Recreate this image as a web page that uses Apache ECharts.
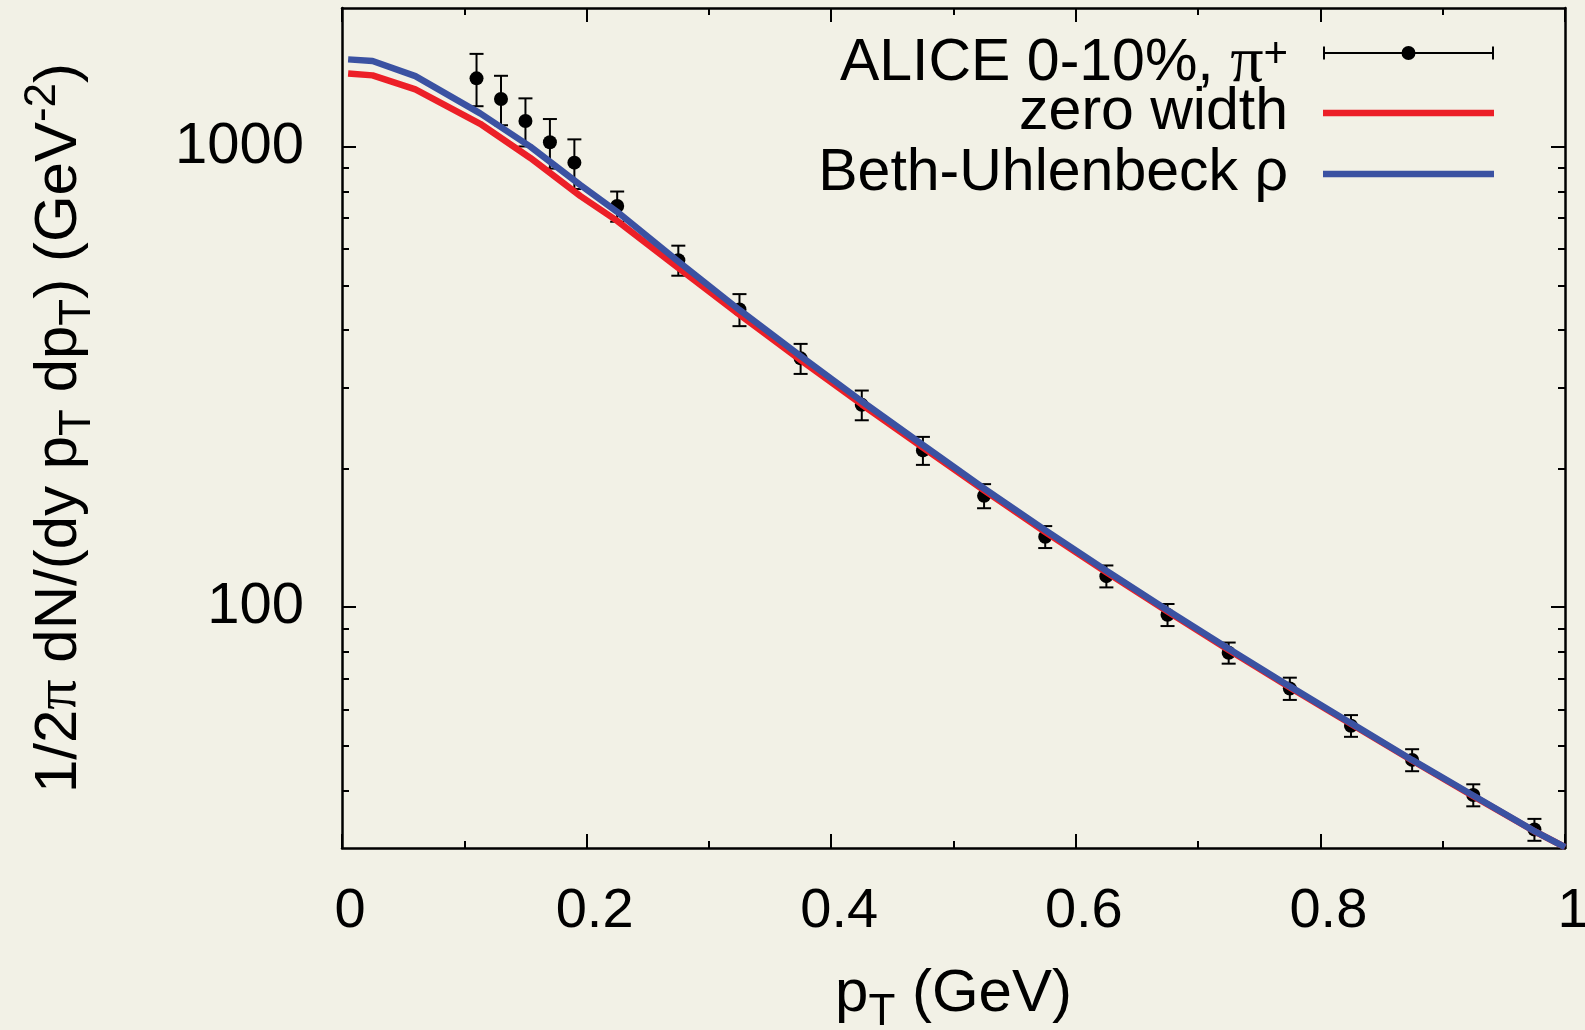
<!DOCTYPE html>
<html>
<head>
<meta charset="utf-8">
<script src="https://cdn.jsdelivr.net/npm/echarts@6/dist/echarts.min.js"></script>
<style>
html,body{margin:0;padding:0;background:#f2f1e6;}
#chart{width:1585px;height:1030px;}
</style>
</head>
<body>
<div id="chart"></div>
<script>
// ALICE 0-10% pi+ data
const pT = [0.11,0.13,0.15,0.17,0.19,0.225,0.275,0.325,0.375,0.425,0.475,0.525,0.575,0.625,0.675,0.725,0.775,0.825,0.875,0.925,0.975];
const yields = [1407,1269,1137,1022,923,743,567,443,347,275,219,174.5,142.2,116.8,96.3,79.6,66.6,55.3,46.6,39.1,32.9];
const yieldErr = [183,156,136,126,114,56,42.5,35.4,26,20.4,15.3,10.5,7.8,6.4,5.3,4.2,3.7,3.0,2.56,2.15,1.8];

// model curves
const curveX = [0.005,0.025,0.06,0.113,0.154,0.195,0.225,0.275,0.325,0.375,0.425,0.475,0.525,0.575,0.625,0.675,0.725,0.775,0.825,0.875,0.925,0.975,1.0];
const zeroWidth = [1442,1428,1331,1121,945,781,690,545,431.5,344,275.5,222,179.4,145.6,119.1,97.9,80.75,66.97,55.78,46.46,38.87,32.62,30.13];
const bethUhlenbeck = [1547,1534,1423,1181,1000,825,722,563,442,351,280,225,181,147,120,98.5,81.2,67.3,56.0,46.6,39.0,32.65,30.13];

// axis ticks
const yMajorTicks = [100, 1000];
const yMinorTicks = [40,50,60,70,80,90,200,300,400,500,600,700,800,900];

const names = ['ALICE 0-10%, π+', 'zero width', 'Beth-Uhlenbeck ρ'];
const FONT = 'Liberation Sans, Arial, Helvetica, sans-serif';
const SERIF = 'Liberation Serif, Times New Roman, serif';
const RED = '#ec1f27';
const BLUE = '#3b52a2';

const chart = echarts.init(document.getElementById('chart'), null, {renderer: 'canvas'});

const dataPts = pT.map((x, i) => [x, yields[i], yieldErr[i]]);
const redPts = curveX.map((x, i) => [x, zeroWidth[i]]);
const bluePts = curveX.map((x, i) => [x, bethUhlenbeck[i]]);

const speck = 'M0,0 h0.01 v0.01 h-0.01 Z M170.99,13.99 h0.01 v0.01 h-0.01 Z ';
const iconAlice = 'path://M0,0.5 h2 v13 h-2 Z M169,0.5 h2 v13 h-2 Z M0,6 h171 v2 h-171 Z M78.5,7 A7,7 0 1,1 92.5,7 A7,7 0 1,1 78.5,7 Z';
const iconLine = 'path://' + speck + 'M0,3.75 h171 v6.5 h-171 Z';

const subStyle = {fontFamily: FONT, fontSize: 44, lineHeight: 20, verticalAlign: 'middle', padding: [37, 0, 0, 0], color: '#000'};
const supStyle = {fontFamily: FONT, fontSize: 44, lineHeight: 20, verticalAlign: 'middle', padding: [0, 0, 33, 0], color: '#000'};

function xAxisDef(pos, withLabels) {
  return {
    type: 'value', position: pos, min: 0, max: 1, interval: 0.2,
    gridIndex: 0,
    axisLine: {show: true, onZero: false, lineStyle: {color: '#000', width: 2.5}},
    axisTick: {show: true, inside: true, length: 14, lineStyle: {color: '#000', width: 2}},
    minorTick: {show: true, splitNumber: 2, length: 7, lineStyle: {color: '#000', width: 2}},
    splitLine: {show: false}, minorSplitLine: {show: false},
    axisLabel: withLabels ? {show: true, color: '#000', fontFamily: FONT, fontSize: 56, margin: 36, padding: [0, 0, 0, 16]} : {show: false},
    name: withLabels ? '{a|p}{s|T}{a| (GeV)}' : '',
    nameLocation: 'middle', nameGap: 116, nameMoveOverlap: false,
    nameTextStyle: {
      color: '#000', fontFamily: FONT, fontSize: 60, lineHeight: 60,
      rich: {
        a: {fontFamily: FONT, fontSize: 60, lineHeight: 60, color: '#000'},
        s: subStyle
      }
    }
  };
}

function yAxisDef(pos, major, withLabels) {
  const ticks = major ? yMajorTicks : yMinorTicks;
  return {
    type: 'log', logBase: 10, position: pos, min: 30, max: 2000, gridIndex: 0,
    axisLine: {show: major, onZero: false, lineStyle: {color: '#000', width: 2.5}},
    axisTick: {show: true, inside: true, length: major ? 14 : 7, customValues: ticks, lineStyle: {color: '#000', width: 2}},
    splitLine: {show: false},
    axisLabel: withLabels ? {show: true, customValues: yMajorTicks, formatter: v => String(v), color: '#000', fontFamily: FONT, fontSize: 58, margin: 38} : {show: false},
    name: withLabels ? '{a|1/2}{g|π}{a| dN/(dy p}{s|T}{a| dp}{s|T}{a|) (GeV}{p|-2}{a|)}' : '',
    nameLocation: 'middle', nameRotate: 90, nameGap: 253, nameMoveOverlap: false,
    nameTextStyle: {
      color: '#000', fontFamily: FONT, fontSize: 60, lineHeight: 60,
      rich: {
        a: {fontFamily: FONT, fontSize: 60, lineHeight: 60, color: '#000'},
        g: {fontFamily: SERIF, fontSize: 60, lineHeight: 60, color: '#000'},
        s: subStyle,
        p: supStyle
      }
    }
  };
}

const legendCommon = {
  orient: 'vertical', right: 91, padding: 0, itemGap: 1,
  itemWidth: 171, itemHeight: 14, align: 'right', selectedMode: false,
  symbolKeepAspect: false
};

const option = {
  backgroundColor: '#f2f1e6',
  animation: false,
  grid: {left: 342, right: 20, top: 8, height: 840, containLabel: false, outerBoundsMode: 'none'},
  xAxis: [xAxisDef('bottom', true), xAxisDef('top', false)],
  yAxis: [yAxisDef('left', true, true), yAxisDef('left', false, false), yAxisDef('right', true, false), yAxisDef('right', false, false)],
  legend: [
    Object.assign({}, legendCommon, {
      top: 12,
      textStyle: {
        color: '#000', fontFamily: FONT, fontSize: 59, lineHeight: 60, padding: [22, 30, 0, 0],
        rich: {
          a: {fontFamily: FONT, fontSize: 59, lineHeight: 60, color: '#000'},
          g: {fontFamily: SERIF, fontSize: 66, lineHeight: 60, color: '#000'},
          p: {fontFamily: FONT, fontSize: 42, verticalAlign: 'top', color: '#000'}
        }
      },
      formatter: function () { return '{a|ALICE 0-10%, }{g|π}{p|+}'; },
      data: [
        {name: names[0], icon: iconAlice, itemStyle: {color: '#000', borderWidth: 0, borderColor: 'transparent'}}
      ]
    }),
    Object.assign({}, legendCommon, {
      top: 83,
      textStyle: {
        color: '#000', fontFamily: FONT, fontSize: 59, lineHeight: 54, padding: [6, 30, 0, 0]
      },
      data: [
        {name: names[1], icon: iconLine, itemStyle: {color: RED, borderWidth: 0, borderColor: 'transparent'}},
        {name: names[2], icon: iconLine, itemStyle: {color: BLUE, borderWidth: 0, borderColor: 'transparent'}}
      ]
    })
  ],
  series: [
    {
      name: names[0], type: 'custom', coordinateSystem: 'cartesian2d', xAxisIndex: 0, yAxisIndex: 0,
      itemStyle: {color: '#000'},
      encode: {x: 0, y: 1},
      data: dataPts,
      renderItem: function (params, api) {
        const x = api.value(0), y = api.value(1), e = api.value(2);
        const c = api.coord([x, y]);
        const t = api.coord([x, y + e]);
        const b = api.coord([x, y - e]);
        const hw = 7;
        const st = {stroke: '#000', lineWidth: 2};
        return {
          type: 'group',
          children: [
            {type: 'line', shape: {x1: c[0], y1: t[1], x2: c[0], y2: b[1]}, style: st},
            {type: 'line', shape: {x1: c[0] - hw, y1: t[1], x2: c[0] + hw, y2: t[1]}, style: st},
            {type: 'line', shape: {x1: c[0] - hw, y1: b[1], x2: c[0] + hw, y2: b[1]}, style: st},
            {type: 'circle', shape: {cx: c[0], cy: c[1], r: 7}, style: {fill: '#000'}}
          ]
        };
      }
    },
    {
      name: names[1], type: 'line', xAxisIndex: 0, yAxisIndex: 0,
      showSymbol: false, symbol: 'none', color: RED,
      lineStyle: {color: RED, width: 6.5},
      data: redPts
    },
    {
      name: names[2], type: 'line', xAxisIndex: 0, yAxisIndex: 0,
      showSymbol: false, symbol: 'none', color: BLUE,
      lineStyle: {color: BLUE, width: 6.5},
      data: bluePts
    }
  ]
};
chart.setOption(option);
</script>
</body>
</html>
